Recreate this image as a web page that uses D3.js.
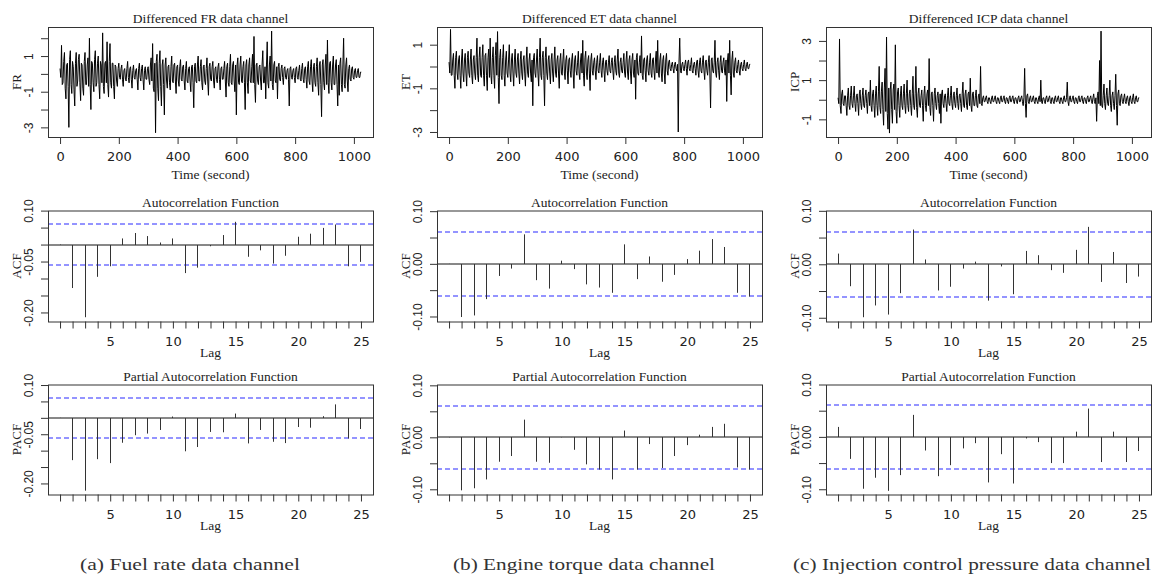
<!DOCTYPE html>
<html lang="en">
<head>
<meta charset="utf-8">
<title>Differenced channels with ACF and PACF</title>
<script src="https://d3js.org/d3.v7.min.js"></script>
<style>
  html, body { margin: 0; padding: 0; background: #fff; }
  svg { display: block; }
</style>
</head>
<body>
<svg id="chart" width="1155" height="578"></svg>
<script>
// ---- data ----
var timeStep = 2.5; // seconds between the listed samples
var timeTicks = [0, 200, 400, 600, 800, 1000];

// one row = 50 seconds
var frSeries = [
  0.3, -0.2, 1.6, -0.6, -0.5, 0.7, 1.2, -0.8, -1.4, 0.5, 0.6, -0.7, -3.0, 0.8, 1.3, -0.6, -1.1, 0.7, 0.4, -0.9,
  -1.8, 0.6, 1.2, -0.7, -0.4, 0.8, 1.1, -0.5, -1.5, 0.6, 0.5, -0.8, -1.2, 0.7, 1.2, -0.6, -0.6, 0.5, 0.9, -0.7,
  2.0, -0.6, -2.0, 0.7, 0.6, -0.5, -1.0, 0.8, 1.3, -0.7, -0.5, 0.6, 1.0, -0.6, -1.4, 0.7, 0.5, -0.5, 2.3, -0.7,
  -1.1, 0.6, 0.7, -0.5, 1.8, -0.6, -1.3, 0.7, 1.7, -0.5, -0.8, 0.6, 0.6, -0.7, -1.4, 0.5, 0.4, -0.4, -0.7, 0.3,
  0.6, -0.2, -0.3, 0.3, 0.5, -0.3, -0.7, 0.2, 0.3, -0.3, -0.4, 0.3, 0.7, -0.2, -0.5, 0.3, 0.4, -0.3, -0.8, 0.2,
  0.5, -0.2, -0.3, 0.2, 0.3, -0.3, -0.9, 0.3, 0.6, -0.2, -0.4, 0.3, 0.5, -0.3, -0.9, 0.2, 0.4, -0.3, -0.3, 0.3,
  0.4, -0.3, -0.6, 0.5, 0.9, -0.4, 1.7, -0.8, -1.0, 0.6, -3.3, 0.7, 1.1, -0.8, -1.5, 0.6, 1.3, -0.7, -1.8, 0.5,
  0.8, -0.6, -2.3, 0.5, 0.9, -0.4, -0.8, 0.4, 0.5, -0.5, -0.9, 0.4, 1.0, -0.4, -0.5, 0.5, 0.6, -0.4, -1.1, 0.4,
  0.5, -0.4, -0.7, 0.4, 0.8, -0.3, -0.4, 0.4, 0.5, -0.4, -0.9, 0.3, 0.7, -0.4, -0.5, 0.3, 0.4, -0.4, -1.0, 0.4,
  0.5, -0.5, -1.9, 0.4, 0.6, -0.4, -0.5, 0.5, 1.0, -0.4, -0.4, 0.4, 0.8, -0.5, -0.9, 0.4, 0.5, -0.4, -0.6, 0.3,
  0.9, -0.4, -1.2, 0.4, 0.6, -0.3, -0.4, 0.4, 0.7, -0.4, -0.8, 0.3, 0.4, -0.3, -0.5, 0.4, 0.6, -0.3, -0.9, 0.3,
  0.4, -0.3, -0.3, 0.3, 0.7, -0.4, -1.3, 0.4, 0.6, -0.5, -0.7, 0.4, 1.1, -0.5, -0.6, 0.5, 0.7, -0.4, -1.0, 0.5,
  -2.3, 0.5, 0.9, -0.5, -0.6, 0.5, 1.0, -0.4, -0.5, 0.4, 0.7, -0.5, -2.0, 0.5, 0.8, -0.5, -1.1, 0.5, 0.9, -0.4,
  -0.5, 0.4, 1.1, -0.5, 2.1, -0.6, -1.6, 0.5, 0.6, -0.4, -0.6, 0.4, 0.5, -0.4, -0.9, 0.5, 1.3, -0.5, -0.5, 0.4,
  -1.4, 0.5, 1.8, -0.5, -0.8, 0.5, 1.0, -0.4, 2.4, -0.6, -0.9, 0.5, 0.7, -0.4, -0.5, 0.4, -1.4, 0.4, 0.6, -0.3,
  -0.4, 0.3, 0.5, -0.2, -0.6, 0.3, 0.4, -0.2, -0.3, 0.2, 0.3, -0.3, -1.8, 0.3, 0.4, -0.2, -0.3, 0.2, 0.3, -0.2,
  -0.5, 0.3, 0.4, -0.2, -0.3, 0.2, 0.5, -0.3, -0.4, 0.3, 0.6, -0.3, -0.5, 0.3, 0.4, -0.3, -0.8, 0.4, 0.7, -0.4,
  -0.6, 0.4, 0.8, -0.4, -1.0, 0.4, 0.6, -0.5, -0.7, 0.4, 0.9, -0.5, -1.2, 0.5, 0.7, -0.6, -2.4, 0.5, 0.8, -0.5,
  -0.9, 0.5, 1.1, -0.6, 1.9, -0.5, -1.1, 0.6, 0.7, -0.5, -0.9, 0.5, 1.0, -0.6, -0.6, 0.5, 0.8, -0.6, -1.8, 0.5,
  -1.2, 0.6, 0.9, -0.6, -1.0, 0.5, 2.0, -0.6, -0.8, 0.5, 0.9, -0.4, -1.0, 0.3, 0.5, -0.3, -0.4, 0.3, 0.4, -0.2,
  -0.3, 0.2, 0.3, -0.2, -0.2, 0.2, 0.3, -0.2, -0.2, 0.1, 0.1
];

var etSeries = [
  0.2, -0.3, 1.7, -0.4, -0.4, 0.3, 0.6, -0.4, -1.0, 0.4, 0.7, -0.3, -0.6, 0.3, 0.5, -0.4, -1.0, 0.3, 0.8, -0.3,
  -0.7, 0.3, 0.6, -0.3, -0.9, 0.4, 0.7, -0.3, -0.5, 0.3, 0.8, -0.4, -0.8, 0.3, 0.5, -0.3, -0.6, 0.4, 1.3, -0.4,
  -0.7, 0.4, 0.9, -0.4, -0.5, 0.4, 1.0, -0.4, -0.9, 0.5, 0.6, -0.4, -1.1, 0.4, 0.8, -0.5, 1.3, -0.4, -0.8, 0.4,
  0.9, -0.4, -1.0, 0.5, 1.1, -0.4, 1.6, -0.5, -1.7, 0.4, 0.8, -0.4, -0.6, 0.4, 1.0, -0.4, -0.9, 0.3, 0.7, -0.3,
  -0.5, 0.3, 1.0, -0.3, -0.7, 0.3, 0.6, -0.3, -0.9, 0.3, 0.8, -0.3, -0.5, 0.3, 0.6, -0.3, -0.8, 0.3, 0.7, -0.3,
  -0.6, 0.3, 0.5, -0.3, -0.9, 0.3, 0.9, -0.3, -0.5, 0.3, 0.6, -0.3, -0.7, 0.3, -1.8, 0.4, 0.6, -0.3, -0.5, 0.3,
  0.8, -0.3, -0.9, 0.4, 1.3, -0.4, -0.6, 0.4, 0.7, -0.4, -1.8, 0.4, 0.9, -0.3, -0.6, 0.3, 0.5, -0.3, -0.8, 0.3,
  0.6, -0.3, -0.7, 0.3, 0.9, -0.3, -0.5, 0.3, 0.5, -0.3, -1.0, 0.3, 0.6, -0.3, -0.4, 0.3, 0.8, -0.3, -0.6, 0.3,
  0.5, -0.2, -0.8, 0.3, 0.4, -0.2, -0.5, 0.3, 0.6, -0.3, -1.0, 0.3, 0.5, -0.2, -0.4, 0.2, 0.7, -0.3, -0.6, 0.3,
  0.6, -0.3, 1.2, -0.4, -0.9, 0.4, 0.7, -0.3, -0.6, 0.3, 0.5, -0.3, -1.1, 0.3, 0.6, -0.2, -0.4, 0.2, 0.4, -0.2,
  -0.6, 0.2, 0.5, -0.2, -0.3, 0.2, 0.6, -0.2, -0.5, 0.2, 0.4, -0.2, -0.7, 0.2, 0.3, -0.2, -0.4, 0.2, 0.5, -0.2,
  -0.3, 0.2, 0.4, -0.2, -0.6, 0.2, 0.5, -0.2, -0.4, 0.3, 0.8, -0.3, -0.5, 0.2, 0.4, -0.2, -0.3, 0.2, 0.6, -0.3,
  -0.5, 0.3, 0.7, -0.3, -0.6, 0.3, 0.5, -0.3, -0.8, 0.3, 0.6, -0.3, -0.5, 0.3, -1.5, 0.4, 0.6, -0.3, -0.4, 0.2,
  0.5, -0.3, 1.4, -0.4, -0.6, 0.3, 0.4, -0.2, -0.7, 0.3, 0.5, -0.2, -0.4, 0.2, 0.6, -0.3, -0.5, 0.3, 0.4, -0.2,
  -0.6, 0.3, 0.7, -0.3, 1.2, -0.3, -0.5, 0.3, 0.6, -0.3, -0.7, 0.3, 0.5, -0.3, -0.8, 0.3, 0.6, -0.2, -0.4, 0.2,
  0.3, -0.1, -0.2, 0.1, 0.2, -0.1, -0.3, 0.1, 0.2, -0.1, -0.2, 0.1, -3.0, 0.2, 1.3, -0.2, -0.3, 0.1, 0.2, -0.1,
  -0.2, 0.1, 0.3, -0.1, -0.4, 0.2, 0.3, -0.1, -0.2, 0.1, 0.4, -0.2, -0.3, 0.1, 0.2, -0.1, -0.4, 0.2, 0.3, -0.2,
  -0.5, 0.2, 0.4, -0.2, -0.3, 0.2, 0.5, -0.2, -0.6, 0.2, 0.3, -0.2, -0.4, 0.2, 0.5, -0.3, -1.9, 0.3, 0.4, -0.2,
  -0.3, 0.2, 1.2, -0.3, -0.5, 0.2, 0.4, -0.2, -0.6, 0.2, 0.5, -0.2, -0.3, 0.2, 0.4, -0.2, -0.4, 0.3, -1.6, 0.3,
  0.6, -0.3, 1.2, -0.4, -1.3, 0.3, 0.7, -0.3, -0.5, 0.2, 0.4, -0.2, -0.3, 0.1, 0.3, -0.2, -0.4, 0.1, 0.2, -0.1,
  -0.2, 0.1, 0.3, -0.1, -0.2, 0.1, 0.2, -0.1, -0.1, 0.1, 0.1
];

var icpSeries = [
  0.1, -0.2, 3.1, -0.3, -0.7, 0.3, 0.5, -0.2, -0.3, 0.2, 0.2, -0.3, -0.8, 0.2, 0.6, -0.3, -0.5, 0.2, 0.7, -0.2,
  -0.4, 0.2, 0.7, -0.2, -0.6, 0.2, 0.3, -0.2, -0.8, 0.3, 0.5, -0.2, -0.5, 0.2, 0.6, -0.3, -0.4, 0.2, 0.5, -0.2,
  -0.7, 0.3, 0.4, -0.3, 1.0, -0.3, -0.6, 0.3, 0.5, -0.3, -0.9, 0.3, 0.7, -0.3, -0.8, 0.4, 1.7, -0.4, -0.7, 0.4,
  0.9, -0.5, -1.3, 0.6, 1.6, -0.6, 3.2, -0.7, -1.5, 0.6, -1.7, 0.5, 0.9, -0.5, -1.2, 0.5, 0.8, -0.5, 2.8, -0.6,
  -1.2, 0.4, 0.6, -0.3, -0.9, 0.3, 0.7, -0.3, -0.5, 0.3, 0.8, -0.3, -0.7, 0.3, 1.0, -0.3, -0.6, 0.3, 0.5, -0.3,
  -0.8, 0.3, 1.2, -0.3, -0.5, 0.3, 1.7, -0.4, -0.9, 0.3, 0.6, -0.3, -0.4, 0.2, 0.5, -0.3, -1.1, 0.3, 0.7, -0.3,
  -0.6, 0.3, 0.5, -0.3, 2.1, -0.4, -0.8, 0.3, 0.4, -0.3, -1.1, 0.3, 0.6, -0.2, -0.5, 0.2, 0.4, -0.2, -0.7, 0.3,
  -1.2, 0.3, 0.5, -0.2, -0.4, 0.2, 0.3, -0.2, -0.6, 0.2, 0.6, -0.2, -0.3, 0.2, 0.7, -0.2, -0.5, 0.2, 0.4, -0.2,
  -0.4, 0.2, 0.6, -0.2, -0.5, 0.2, 0.3, -0.2, -0.6, 0.3, 0.9, -0.3, -0.4, 0.3, 0.5, -0.3, -0.5, 0.3, 0.4, -0.3,
  1.1, -0.3, -0.6, 0.3, 0.4, -0.3, -0.3, 0.2, 0.5, -0.3, -0.4, 0.2, 0.3, -0.2, 1.7, -0.2, -0.3, 0.1, 0.2, -0.1,
  -0.1, 0.1, 0.2, -0.1, -0.2, 0.1, 0.1, -0.1, -0.2, 0.1, 0.2, -0.1, -0.1, 0.1, 0.2, -0.1, -0.2, 0.1, 0.1, -0.1,
  -0.2, 0.1, 0.2, -0.1, -0.1, 0.1, 0.2, -0.1, -0.2, 0.1, 0.1, -0.1, -0.2, 0.1, 0.2, -0.1, -0.1, 0.1, 0.2, -0.1,
  -0.2, 0.1, 0.1, -0.1, -0.2, 0.1, 0.2, -0.1, -0.1, 0.1, 0.2, -0.1, -0.3, 0.1, 1.6, -0.2, -0.9, 0.2, 0.3, -0.1,
  -0.2, 0.1, 0.2, -0.1, -0.1, 0.1, 0.2, -0.1, -0.2, 0.1, 0.1, -0.1, -0.2, 0.1, 0.2, -0.1, 1.0, -0.1, -0.2, 0.1,
  0.1, -0.1, -0.2, 0.1, 0.2, -0.1, -0.1, 0.1, 0.2, -0.1, -0.2, 0.1, 0.1, -0.1, -0.2, 0.1, 0.2, -0.1, -0.1, 0.1,
  0.2, -0.1, -0.2, 0.1, 0.1, -0.1, -0.2, 0.1, 0.2, -0.1, -0.1, 0.1, 0.9, -0.1, -0.3, 0.1, 0.2, -0.1, -0.1, 0.1,
  0.2, -0.1, -0.2, 0.1, 0.1, -0.1, -0.2, 0.1, 0.2, -0.1, -0.1, 0.1, 0.2, -0.1, -0.2, 0.1, 0.1, -0.1, -0.2, 0.1,
  0.2, -0.1, -0.1, 0.1, 0.2, -0.1, -0.2, 0.1, 0.3, -0.1, -0.2, 0.1, -1.1, 0.2, 0.4, -0.2, 2.0, -0.3, 3.5, -0.3,
  -0.4, 0.2, 0.8, -0.2, -0.5, 0.2, 0.6, -0.2, -0.3, 0.2, 1.0, -0.3, -0.6, 0.2, 0.4, -0.2, -0.5, 0.2, 1.3, -0.3,
  -1.3, 0.3, 0.5, -0.2, -0.3, 0.2, 0.3, -0.1, -0.2, 0.1, 0.3, -0.1, -0.2, 0.1, 0.2, -0.1, -0.3, 0.1, 0.2, -0.1,
  -0.2, 0.1, 0.3, -0.1, -0.2, 0.1, 0.2, -0.1, -0.1, 0.1, 0.1
];

var lags = [1, 2, 3, 4, 5, 6, 7, 8, 9, 10, 11, 12, 13, 14, 15, 16, 17, 18, 19, 20, 21, 22, 23, 24, 25];
var lagLabels = [5, 10, 15, 20, 25];

var frAcf = [0, -0.128, -0.214, -0.095, -0.064, 0.018, 0.034, 0.025, 0.006, 0.018, -0.084, -0.068, -0.005,
  0.028, 0.067, -0.036, -0.017, -0.056, -0.033, 0.023, 0.032, 0.049, 0.059, -0.064, -0.051];
var etAcf = [0, -0.101, -0.098, -0.067, -0.023, -0.009, 0.056, -0.031, -0.047, 0.006, -0.010, -0.039, -0.045,
  -0.055, 0.037, -0.029, 0.014, -0.034, -0.021, 0.009, 0.025, 0.047, 0.032, -0.055, -0.062];
var icpAcf = [0.020, -0.041, -0.099, -0.077, -0.094, -0.054, 0.065, 0.009, -0.049, -0.042, -0.008, 0.005, -0.068,
  -0.004, -0.056, 0.025, 0.017, -0.011, -0.016, 0.027, 0.070, -0.033, 0.023, -0.035, -0.023];

var frPacf = [0, -0.129, -0.222, -0.126, -0.138, -0.076, -0.053, -0.048, -0.037, 0.004, -0.102, -0.089, -0.043,
  -0.044, 0.013, -0.078, -0.037, -0.073, -0.077, -0.028, -0.030, 0.005, 0.041, -0.063, -0.034];
var etPacf = [0, -0.102, -0.098, -0.081, -0.047, -0.036, 0.034, -0.047, -0.049, 0, -0.024, -0.052, -0.062,
  -0.081, 0.013, -0.062, -0.013, -0.059, -0.036, -0.015, 0.005, 0.020, 0.026, -0.058, -0.062];
var icpPacf = [0.019, -0.042, -0.099, -0.078, -0.103, -0.073, 0.042, -0.026, -0.075, -0.054, -0.022, -0.012, -0.087,
  -0.033, -0.089, -0.003, -0.010, -0.050, -0.050, 0.010, 0.054, -0.048, 0.010, -0.048, -0.027];

var ciBound = 0.0612; // 1.96 / sqrt(n)

var corrTicksWide = [-0.20, -0.15, -0.10, -0.05, 0.00, 0.05, 0.10];
var corrLabelsWide = [-0.20, -0.05, 0.10];
var corrTicksNarrow = [-0.10, -0.05, 0.00, 0.05, 0.10];
var corrLabelsNarrow = [-0.10, 0.00, 0.10];

var captions = ["(a) Fuel rate data channel", "(b) Engine torque data channel", "(c) Injection control pressure data channel"];

// ---- layout ----
var colLeft = [48, 437, 826];
var panelW = 325;
var rowTop = [27, 210.5, 384.5];
var rowH = [110, 111, 110];

var serif = "'Liberation Serif', 'Times New Roman', Times, serif";
var sans = "'Liberation Sans', Arial, Helvetica, sans-serif";
var wideSans = "'DejaVu Sans', Verdana, sans-serif";
var ink = "#222";

var svg = d3.select("#chart");

function isIn(list, v) {
  return list.some(function(l) { return Math.abs(l - v) < 1e-9; });
}

// snap a coordinate to the middle of a pixel so 1px lines stay crisp
function crisp(v) {
  return Math.round(v - 0.5) + 0.5;
}

function frame(g, h) {
  g.append("rect")
    .attr("x", 0.5).attr("y", 0.5)
    .attr("width", panelW).attr("height", h)
    .attr("fill", "none")
    .attr("stroke", "#333")
    .attr("stroke-width", 1);
}

// x axis with R-style unlabeled minor ticks
function xAxis(g, x, h, ticks, labels) {
  var ax = g.append("g")
    .attr("transform", "translate(0," + h + ")")
    .call(d3.axisBottom(x).tickValues(ticks).tickSize(7)
      .tickFormat(function(d) { return isIn(labels, d) ? String(d) : ""; }));
  ax.select(".domain").remove();
  ax.selectAll("line").attr("stroke", "#333");
  ax.selectAll("text")
    .attr("y", 24).attr("dy", 0)
    .attr("font-family", wideSans)
    .attr("font-size", 13)
    .attr("fill", ink);
}

function yAxis(g, y, ticks, labels, fmt) {
  var ax = g.append("g")
    .call(d3.axisLeft(y).tickValues(ticks).tickSize(7)
      .tickFormat(function(d) { return isIn(labels, d) ? fmt(d) : ""; }));
  ax.select(".domain").remove();
  ax.selectAll("line").attr("stroke", "#333");
  ax.selectAll("text")
    .attr("transform", "rotate(-90)")
    .attr("x", 0).attr("y", -19).attr("dy", "0.36em")
    .attr("text-anchor", "middle")
    .attr("font-family", sans)
    .attr("font-size", 12)
    .attr("fill", ink);
}

function labels(g, h, title, xTitle, xTitleDy, yTitle) {
  g.append("text")
    .attr("x", panelW / 2).attr("y", -4)
    .attr("text-anchor", "middle")
    .attr("font-family", serif).attr("font-size", 13.5)
    .attr("fill", ink)
    .text(title);
  g.append("text")
    .attr("x", panelW / 2).attr("y", h + xTitleDy)
    .attr("text-anchor", "middle")
    .attr("font-family", serif).attr("font-size", 13.5)
    .attr("fill", ink)
    .text(xTitle);
  g.append("text")
    .attr("transform", "translate(-32," + (h / 2) + ") rotate(-90)")
    .attr("dy", "0.35em")
    .attr("text-anchor", "middle")
    .attr("font-family", serif).attr("font-size", 13)
    .attr("fill", ink)
    .text(yTitle);
}

function seriesPanel(col, values, yDomain, yTicks, yLabels, title, yTitle) {
  var h = rowH[0];
  var g = svg.append("g").attr("transform", "translate(" + colLeft[col] + "," + rowTop[0] + ")");
  var x = d3.scaleLinear().domain([-41, 1065]).range([0, panelW]);
  var y = d3.scaleLinear().domain(yDomain).range([h, 0]);

  var line = d3.line()
    .x(function(d, i) { return x(i * timeStep); })
    .y(function(d) { return y(d); });

  g.append("path")
    .datum(values)
    .attr("d", line)
    .attr("fill", "none")
    .attr("stroke", "#000")
    .attr("stroke-width", 1)
    .attr("stroke-linejoin", "bevel");

  frame(g, h);
  xAxis(g, x, h, timeTicks, timeTicks);
  yAxis(g, y, yTicks, yLabels, function(d) { return String(d); });
  labels(g, h, title, "Time (second)", 42, yTitle);
}

function corrPanel(row, col, values, yDomain, yTicks, yLabels, title, yTitle) {
  var h = rowH[row];
  var g = svg.append("g").attr("transform", "translate(" + colLeft[col] + "," + rowTop[row] + ")");
  var x = d3.scaleLinear().domain([0.04, 25.96]).range([0, panelW]);
  var y = d3.scaleLinear().domain(yDomain).range([h, 0]);

  // confidence bounds
  g.selectAll("line.ci")
    .data([ciBound, -ciBound])
    .enter().append("line")
    .attr("class", "ci")
    .attr("x1", 0).attr("x2", panelW)
    .attr("y1", function(d) { return crisp(y(d)); })
    .attr("y2", function(d) { return crisp(y(d)); })
    .attr("stroke", "#2a2aff")
    .attr("stroke-width", 1.2)
    .attr("stroke-dasharray", "5,3");

  // zero line
  g.append("line")
    .attr("x1", 0).attr("x2", panelW)
    .attr("y1", crisp(y(0))).attr("y2", crisp(y(0)))
    .attr("stroke", "#111").attr("stroke-width", 1);

  // spikes
  g.selectAll("line.bar")
    .data(values)
    .enter().append("line")
    .attr("class", "bar")
    .attr("x1", function(d, i) { return crisp(x(lags[i])); })
    .attr("x2", function(d, i) { return crisp(x(lags[i])); })
    .attr("y1", crisp(y(0)))
    .attr("y2", function(d) { return y(d); })
    .attr("stroke", "#333")
    .attr("stroke-width", 1);

  frame(g, h);
  xAxis(g, x, h, lags, lagLabels);
  yAxis(g, y, yTicks, yLabels, function(d) { return d.toFixed(2); });
  labels(g, h, title, "Lag", 35, yTitle);
}

// ---- top row: differenced series ----
seriesPanel(0, frSeries, [-3.54, 2.63], [-3, -2, -1, 0, 1, 2], [-3, -1, 1], "Differenced FR data channel", "FR");
seriesPanel(1, etSeries, [-3.23, 1.81], [-3, -2, -1, 0, 1], [-3, -1, 1], "Differenced ET data channel", "ET");
seriesPanel(2, icpSeries, [-1.9, 3.71], [-1, 0, 1, 2, 3], [-1, 1, 3], "Differenced ICP data channel", "ICP");

// ---- middle row: ACF ----
corrPanel(1, 0, frAcf, [-0.2266, 0.1003], corrTicksWide, corrLabelsWide, "Autocorrelation Function", "ACF");
corrPanel(1, 1, etAcf, [-0.1095, 0.1013], corrTicksNarrow, corrLabelsNarrow, "Autocorrelation Function", "ACF");
corrPanel(1, 2, icpAcf, [-0.107, 0.1006], corrTicksNarrow, corrLabelsNarrow, "Autocorrelation Function", "ACF");

// ---- bottom row: PACF ----
corrPanel(2, 0, frPacf, [-0.2337, 0.1016], corrTicksWide, corrLabelsWide, "Partial Autocorrelation Function", "PACF");
corrPanel(2, 1, etPacf, [-0.110, 0.1016], corrTicksNarrow, corrLabelsNarrow, "Partial Autocorrelation Function", "PACF");
corrPanel(2, 2, icpPacf, [-0.110, 0.100], corrTicksNarrow, corrLabelsNarrow, "Partial Autocorrelation Function", "PACF");

// ---- sub-figure captions ----
var captionX = [190, 584, 972];
var captionW = [220, 262, 358];
svg.selectAll("text.caption")
  .data(captions)
  .enter().append("text")
  .attr("class", "caption")
  .attr("x", function(d, i) { return captionX[i]; })
  .attr("y", 570)
  .attr("text-anchor", "middle")
  .attr("font-family", serif)
  .attr("font-size", 17)
  .attr("textLength", function(d, i) { return captionW[i]; })
  .attr("lengthAdjust", "spacingAndGlyphs")
  .attr("fill", "#333")
  .text(function(d) { return d; });
</script>
</body>
</html>
